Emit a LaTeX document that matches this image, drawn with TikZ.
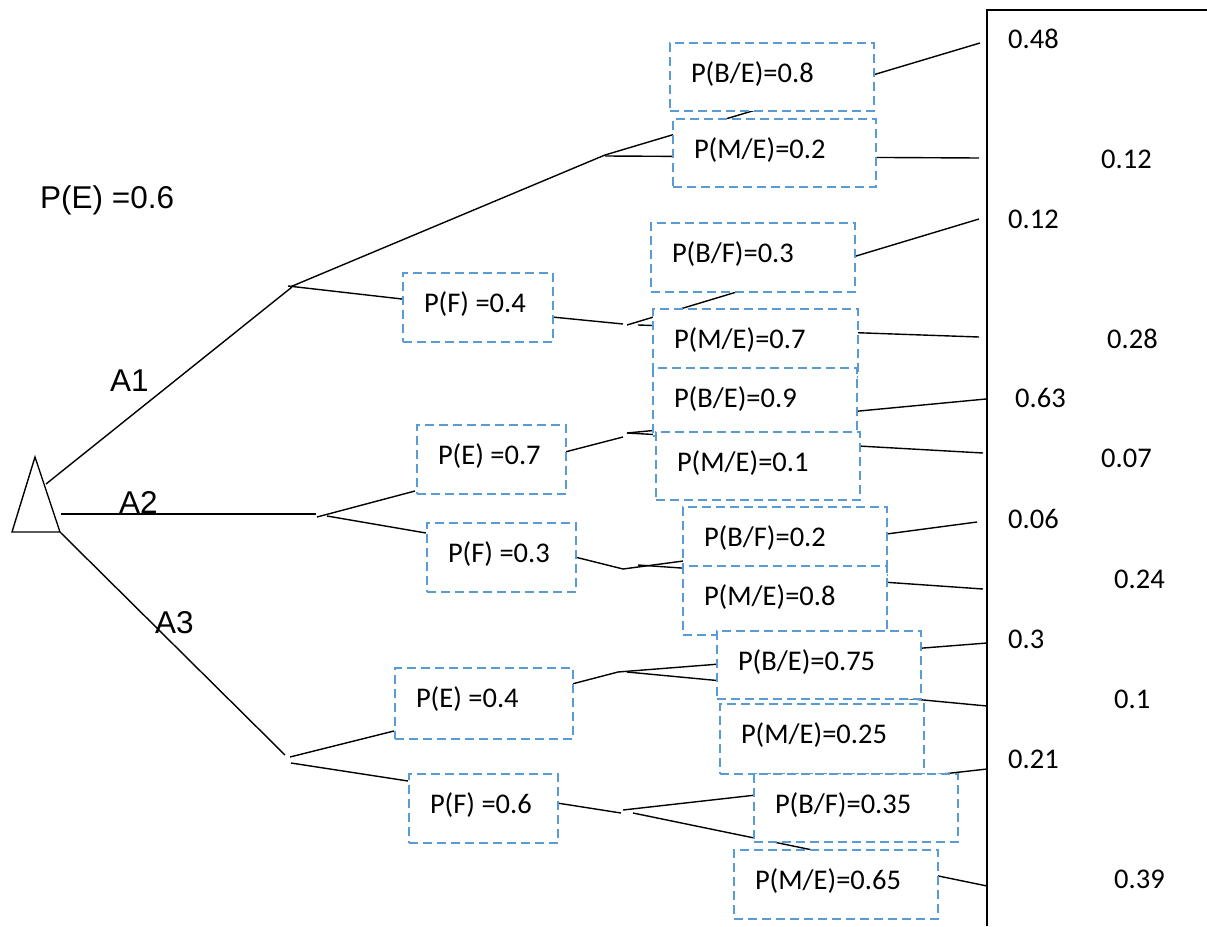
\documentclass[tikz,border=0pt]{standalone}
\usepackage{fontspec}
\setmainfont{Carlito}
\newfontfamily\arialf{Liberation Sans}
\definecolor{boxblue}{RGB}{91,155,213}
\tikzset{
  ln/.style={line width=1.4pt, black},
  bx/.style={draw=boxblue, line width=2pt, dash pattern=on 9pt off 5pt,
    fill=white, rectangle, anchor=north west, inner sep=0pt,
    font=\fontsize{28.5}{34}\selectfont},
  num/.style={anchor=base west, inner sep=0pt, font=\fontsize{28.5}{34}\selectfont},
  lab/.style={anchor=base west, inner sep=0pt, font=\arialf\fontsize{31.5}{38}\selectfont},
}
\newcommand\mybox[6]{%
  \node[bx, text height=39pt, text depth=\the\numexpr#5-39\relax pt] (#1) at (#2,#3)
    {\makebox[#4pt][l]{\hspace*{21pt}#6}};}
\begin{document}
\begin{tikzpicture}[x=1pt,y=-1pt]
\useasboundingbox[fill=white] (0,0) rectangle (1207,926);

% decision triangle
\coordinate (tA) at (35,457);
\coordinate (tL) at (12,532);
\coordinate (tR) at (60,532);
\draw[ln] (tA) -- (tL) -- (tR) -- cycle;

% starts of the alternatives
\coordinate (s1) at (46,484);
\coordinate (s2) at (61,514);
% ends of the alternatives
\coordinate (a1) at (292,287);
\coordinate (a2) at (316,514);
\coordinate (a3) at (285,755);
\draw[ln] (s1) -- (a1);
\draw[ln] (s2) -- (a2);
\draw[ln] (tR) -- (a3);

% branches after the alternatives
\coordinate (a1u) at (290,287);
\coordinate (a1d) at (288,286);
\coordinate (a2u) at (317,517);
\coordinate (a2d) at (327,516);
\coordinate (a3u) at (290,757);
\coordinate (a3d) at (291,763);
\coordinate (n1)  at (605,155);
\coordinate (n1b) at (605,156);
\coordinate (f4in) at (402,299);
\coordinate (e7in) at (415,491);
\coordinate (f3in) at (426,533);
\coordinate (e4in) at (394,731);
\coordinate (f6in) at (408,781);
\draw[ln] (a1u) -- (n1);
\draw[ln] (a1d) -- (f4in);
\draw[ln] (a2u) -- (e7in);
\draw[ln] (a2d) -- (f3in);
\draw[ln] (a3u) -- (e4in);
\draw[ln] (a3d) -- (f6in);

% outputs of the left boxes to the chance points
\coordinate (f4out) at (552,317);  \coordinate (n2)  at (623,324);
\coordinate (e7out) at (565,452);  \coordinate (n3)  at (623,437);
\coordinate (f3out) at (575,557);  \coordinate (n4)  at (623,569);
\coordinate (e4out) at (572,684);  \coordinate (n5)  at (618,672);
\coordinate (f6out) at (557,803);  \coordinate (n6)  at (621,813);
\draw[ln] (f4out) -- (n2);
\draw[ln] (e7out) -- (n3);
\draw[ln] (f3out) -- (n4);
\draw[ln] (e4out) -- (n5);
\draw[ln] (f6out) -- (n6);

% starts of the leaf lines
\coordinate (n2b) at (627,325);
\coordinate (n2c) at (638,325);
\coordinate (n3b) at (627,433);
\coordinate (n4c) at (638,565);
\coordinate (n5c) at (627,672);
\coordinate (n6b) at (623,810);
\coordinate (n6c) at (633,813);

% leaf ends
\coordinate (L1)  at (980,43);
\coordinate (L2)  at (979,158);
\coordinate (L3)  at (979,219);
\coordinate (L4)  at (979,337);
\coordinate (L5)  at (986,399);
\coordinate (L6)  at (983,453);
\coordinate (L7)  at (977,522);
\coordinate (L8)  at (983,589);
\coordinate (L9)  at (987,643);
\coordinate (L10) at (987,706);
\coordinate (L11) at (987,769);
\coordinate (L12) at (987,886);
\draw[ln] (n1)  -- (L1);
\draw[ln] (n1b) -- (L2);
\draw[ln] (n2b) -- (L3);
\draw[ln] (n2c) -- (L4);
\draw[ln] (n3b) -- (L5);
\draw[ln] (n3b) -- (L6);
\draw[ln] (n4)  -- (L7);
\draw[ln] (n4c) -- (L8);
\draw[ln] (n5)  -- (L9);
\draw[ln] (n5c) -- (L10);
\draw[ln] (n6b) -- (L11);
\draw[ln] (n6c) -- (L12);

% right border
\coordinate (vt) at (987,10);
\coordinate (vb) at (987,926);
\coordinate (ht) at (1207,10);
\draw[line width=2pt] (ht) -- (vt) -- (vb);

% left boxes
\mybox{bF4}{402}{272}{150}{69}{P(F) =0.4}
\mybox{bE7}{416}{424}{149}{69}{P(E) =0.7}
\mybox{bF3}{426}{522}{149}{69}{P(F) =0.3}
\mybox{bE4}{394}{667}{178}{71}{P(E) =0.4}
\mybox{bF6}{408}{773}{149}{69}{P(F) =0.6}

% right boxes
\mybox{r1}{669}{42}{204}{68}{P(B/E)=0.8}
\mybox{r2}{672}{118}{203}{68}{P(M/E)=0.2}
\mybox{r3}{650}{222}{204}{69}{P(B/F)=0.3}
\mybox{r4}{652}{308}{205}{68}{P(M/E)=0.7}
\mybox{r5}{652}{367}{204}{68}{P(B/E)=0.9}
\mybox{r6}{655}{431}{204}{68}{P(M/E)=0.1}
\mybox{r7}{682}{506}{204}{68}{P(B/F)=0.2}
\mybox{r8}{682}{565}{204}{69}{P(M/E)=0.8}
\mybox{r9}{716}{630}{204}{68}{P(B/E)=0.75}
\mybox{r10}{719}{703}{204}{70}{P(M/E)=0.25}
\mybox{r11}{753}{773}{204}{68}{P(B/F)=0.35}
\mybox{r12}{733}{849}{204}{69}{P(M/E)=0.65}

% outcome values
\node[num] (v1)  at (1008,48)  {0.48};
\node[num] (v2)  at (1101,168) {0.12};
\node[num] (v3)  at (1008,228) {0.12};
\node[num] (v4)  at (1107,348) {0.28};
\node[num] (v5)  at (1015,407) {0.63};
\node[num] (v6)  at (1101,467) {0.07};
\node[num] (v7)  at (1008,528) {0.06};
\node[num] (v8)  at (1114,588) {0.24};
\node[num] (v9)  at (1008,648) {0.3};
\node[num] (v10) at (1114,708) {0.1};
\node[num] (v11) at (1008,768) {0.21};
\node[num] (v12) at (1114,888) {0.39};

% labels
\node[lab] (pe) at (40,208)  {P(E) =0.6};
\node[lab] (A1) at (110,391) {A1};
\node[lab] (A2) at (119,513) {A2};
\node[lab] (A3) at (155,633) {A3};
\end{tikzpicture}
\end{document}
